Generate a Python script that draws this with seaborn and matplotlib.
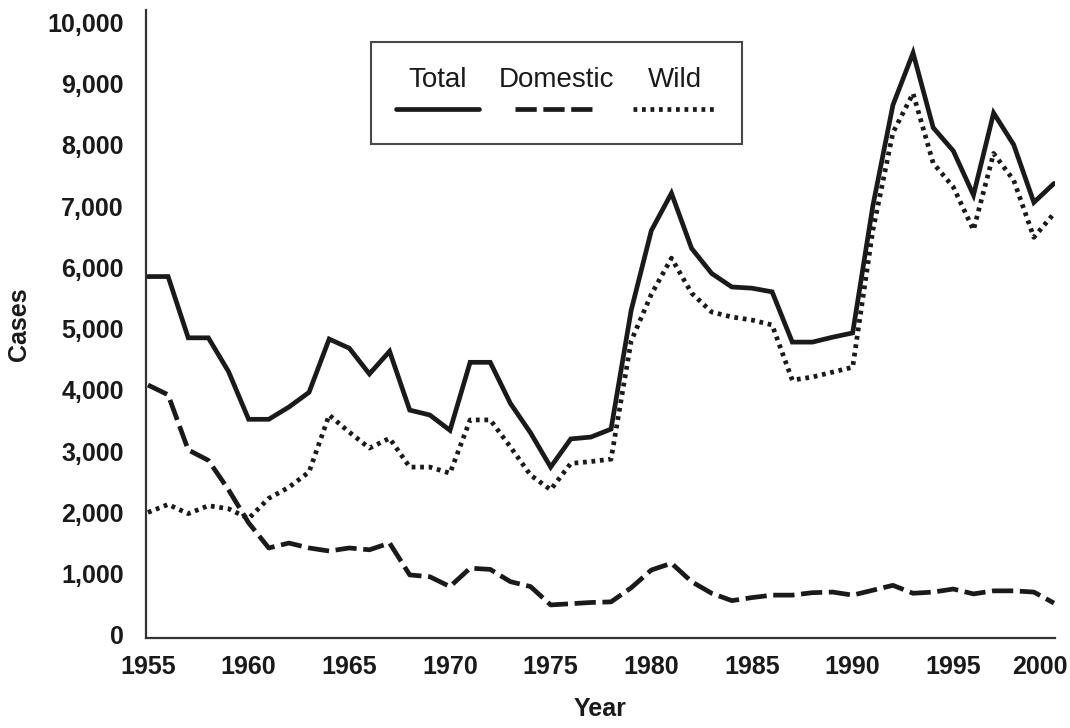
import numpy as np
import pandas as pd
import matplotlib
matplotlib.use("Agg")
import matplotlib.pyplot as plt
from matplotlib.ticker import FuncFormatter
from matplotlib.offsetbox import VPacker
import matplotlib.transforms as mtransforms
import seaborn as sns

years = list(range(1955, 2001))
total = [5850, 5850, 4850, 4850, 4300, 3520, 3520, 3720, 3960, 4830,
         4680, 4260, 4630, 3670, 3590, 3340, 4450, 4450, 3780, 3300,
         2740, 3200, 3230, 3360, 5300, 6600, 7210, 6310, 5900, 5680,
         5660, 5600, 4780, 4780, 4860, 4930, 7000, 8650, 9500, 8280,
         7900, 7180, 8520, 8000, 7060, 7370]
domestic = [4080, 3920, 3020, 2850, 2370, 1830, 1420, 1500, 1420, 1370,
            1420, 1390, 1500, 980, 950, 790, 1090, 1070, 870, 790,
            490, 510, 530, 540, 770, 1060, 1170, 870, 680, 560,
            610, 650, 650, 690, 700, 650, 730, 810, 680, 700,
            750, 670, 720, 720, 700, 520]
wild = [2000, 2130, 1980, 2110, 2060, 1900, 2230, 2410, 2660, 3590,
        3310, 3050, 3210, 2740, 2740, 2640, 3510, 3510, 3070, 2610,
        2370, 2800, 2830, 2870, 4800, 5560, 6150, 5580, 5270, 5190,
        5140, 5060, 4160, 4210, 4290, 4370, 6600, 8200, 8840, 7700,
        7310, 6610, 7860, 7420, 6490, 6880]
series_names = ["Total", "Domestic", "Wild"]
xtick_years = [1955, 1960, 1965, 1970, 1975, 1980, 1985, 1990, 1995, 2000]
ytick_vals = list(range(0, 10001, 1000))

sns.set_theme(style="white")
plt.rcParams["font.family"] = ["Liberation Sans", "DejaVu Sans"]

fig = plt.figure(figsize=(10.7, 7.28), dpi=100)
ax = fig.add_axes([0.1364, 0.1236, 0.8496, 0.8626])

styles = {
    "Total": dict(linestyle="-", linewidth=3.4),
    "Domestic": dict(linestyle=(0, (4.5, 1.4)), linewidth=3.4),
    "Wild": dict(linestyle=(0, (0.8, 1.0)), linewidth=3.4),
}
for name, vals in zip(series_names, [total, domestic, wild]):
    sns.lineplot(x=years, y=vals, ax=ax, color="#1a1a1a", label=name,
                 solid_joinstyle="miter", **styles[name])

ax.set_xlim(1954.9, 2000.05)
ax.set_ylim(-50, 10200)
ax.set_xticks(xtick_years)
ax.set_xticklabels([str(y) for y in xtick_years])
ax.set_yticks(ytick_vals)
ax.yaxis.set_major_formatter(FuncFormatter(lambda v, p: f"{int(v):,}"))

for s in ["top", "right"]:
    ax.spines[s].set_visible(False)
for s in ["left", "bottom"]:
    ax.spines[s].set_color("#333333")
    ax.spines[s].set_linewidth(1.6)

ax.tick_params(axis="y", which="major", direction="out", length=4, width=1.2,
               color="#333333", labelsize=18, pad=12)
ax.tick_params(axis="x", which="major", length=0, labelsize=18, pad=12)
for lab in ax.get_xticklabels() + ax.get_yticklabels():
    lab.set_fontweight("bold")
    lab.set_color("#1a1a1a")
# keep the last year label inside the figure, as in the reference
last = ax.get_xticklabels()[-1]
last.set_transform(last.get_transform() +
                   mtransforms.ScaledTranslation(-14 / 100, 0, fig.dpi_scale_trans))

ax.set_xlabel("Year", fontsize=18, fontweight="bold", color="#1a1a1a", labelpad=13)
ax.set_ylabel("Cases", fontsize=18, fontweight="bold", color="#1a1a1a", labelpad=12)
ax.grid(False)

leg = ax.legend(loc="upper left", bbox_to_anchor=(0.232, 0.972), ncol=3,
                fontsize=20, frameon=True, fancybox=False, handlelength=3.0,
                columnspacing=0.7, borderpad=0.9, handletextpad=0.3)
leg.get_frame().set_edgecolor("#1a1a1a")
leg.get_frame().set_linewidth(1.5)
for t in leg.get_texts():
    t.set_color("#1a1a1a")
# put each label above its line sample
try:
    for col in leg._legend_handle_box.get_children():
        for item in col.get_children():
            item.__class__ = VPacker
            item._children = item._children[::-1]
            item.align = "center"
            item.sep = 5
except Exception:
    pass

fig.savefig("out.png", dpi=100, facecolor="white")
